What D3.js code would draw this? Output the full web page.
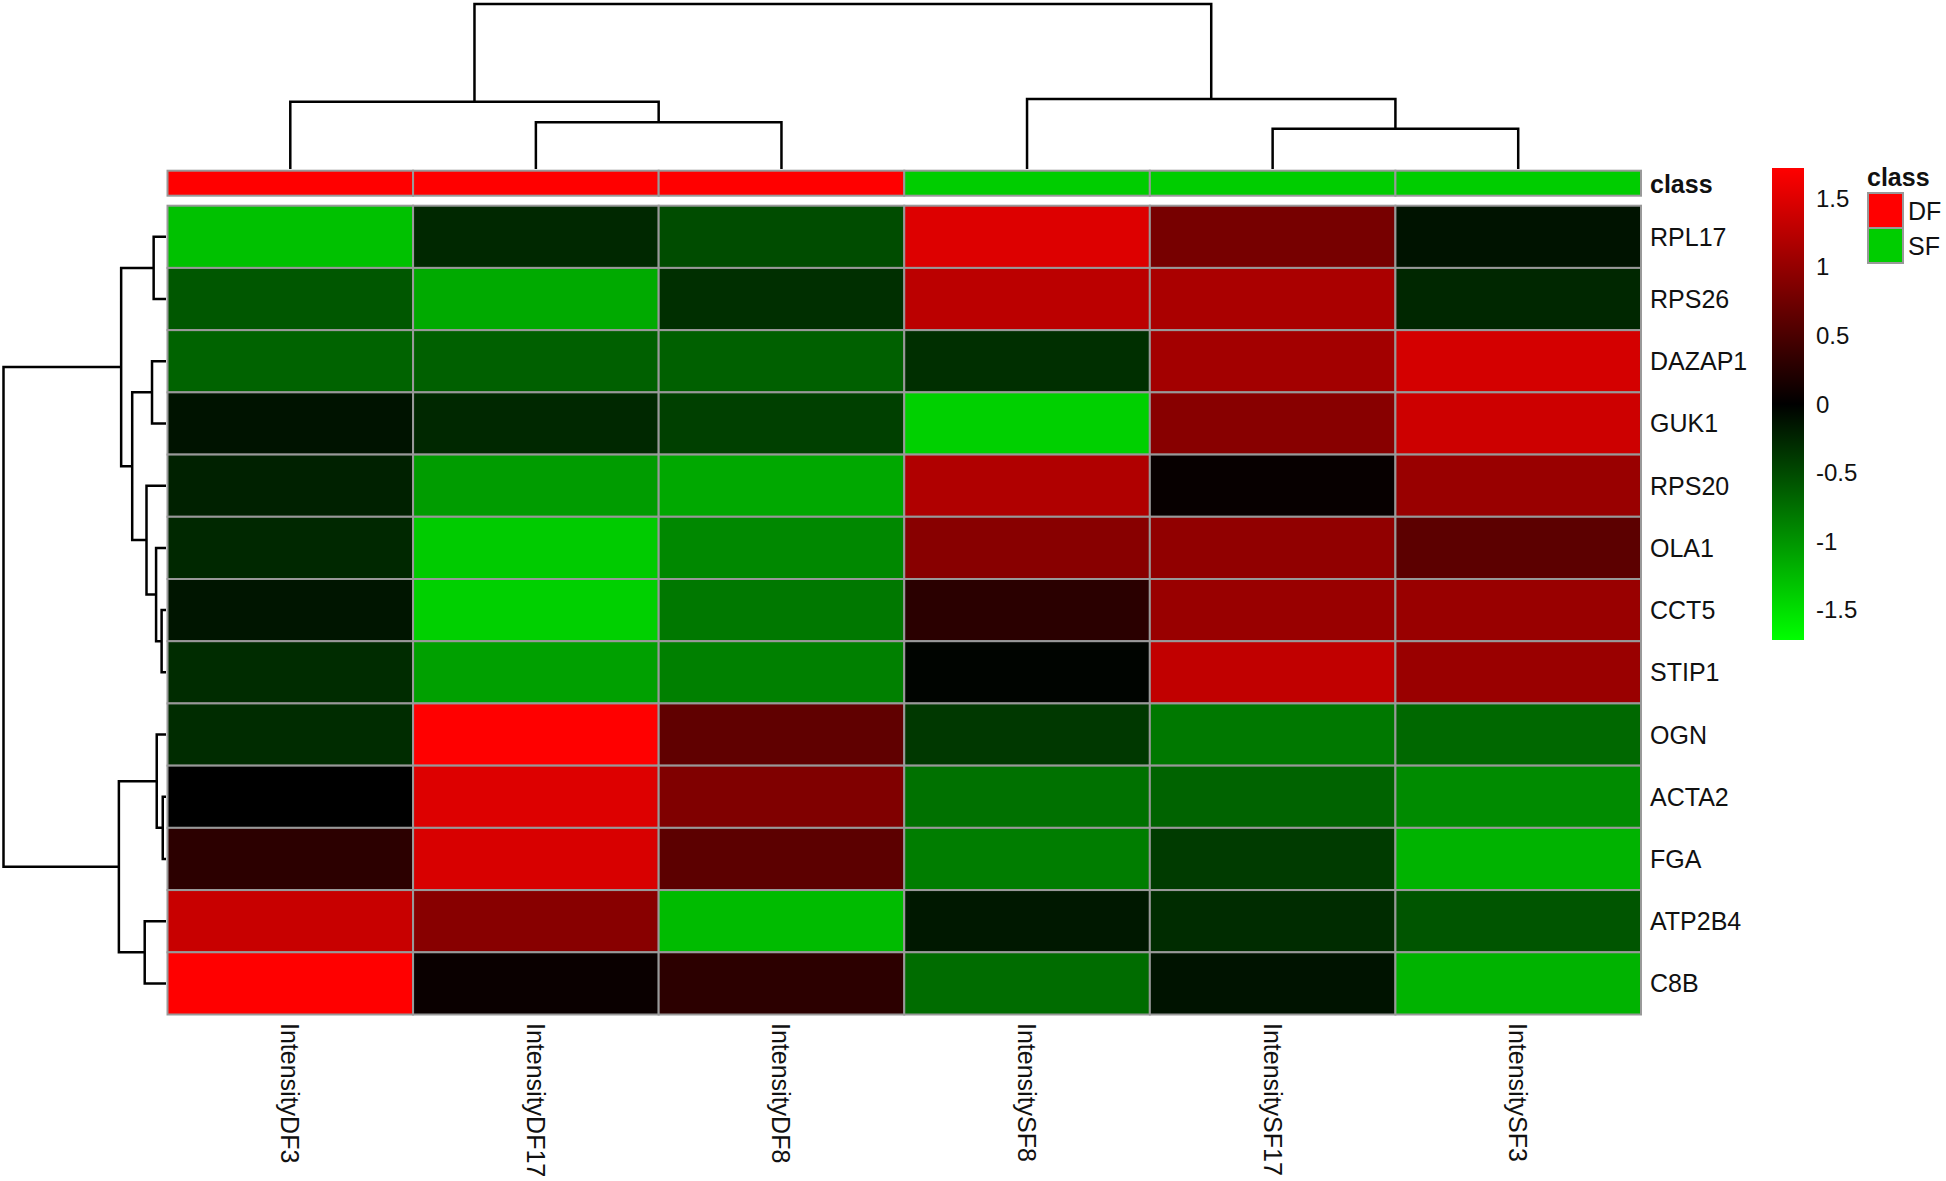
<!DOCTYPE html>
<html>
<head>
<meta charset="utf-8">
<title>heatmap</title>
<style>
body { margin: 0; background: #fff; }
text { font-family: "Liberation Sans", Arial, sans-serif; fill: #111; }
.cell { stroke: #999999; stroke-width: 2px; }
.dendro { fill: none; stroke: #000; stroke-width: 2.5px; }
</style>
</head>
<body>
<script src="https://cdn.jsdelivr.net/npm/d3@7"></script>
<script>

// samples (columns) and genes (rows), in dendrogram order
var samples = ["IntensityDF3", "IntensityDF17", "IntensityDF8", "IntensitySF8", "IntensitySF17", "IntensitySF3"];
var sampleClass = ["DF", "DF", "DF", "SF", "SF", "SF"];
var genes = ["RPL17", "RPS26", "DAZAP1", "GUK1", "RPS20", "OLA1", "CCT5", "STIP1", "OGN", "ACTA2", "FGA", "ATP2B4", "C8B"];

// scaled values, one row per gene, columns in sample order
var values = [
  [-1.30, -0.27, -0.51,  1.49,  0.80, -0.13],
  [-0.59, -1.15, -0.32,  1.26,  1.15, -0.26],
  [-0.67, -0.65, -0.65, -0.32,  1.10,  1.43],
  [-0.13, -0.27, -0.43, -1.40,  0.92,  1.38],
  [-0.22, -1.05, -1.13,  1.19,  0.05,  1.03],
  [-0.27, -1.37, -0.92,  0.92,  0.98,  0.62],
  [-0.14, -1.40, -0.81,  0.28,  1.03,  1.03],
  [-0.30, -1.08, -0.86, -0.03,  1.30,  1.04],
  [-0.30,  1.72,  0.65, -0.38, -0.81, -0.70],
  [ 0.00,  1.49,  0.86, -0.76, -0.67, -0.94],
  [ 0.30,  1.46,  0.62, -0.84, -0.40, -1.21],
  [ 1.35,  0.92, -1.26, -0.16, -0.30, -0.57],
  [ 1.72,  0.07,  0.30, -0.73, -0.13, -1.21]
];

var legendTicks = [-1.5, -1, -0.5, 0, 0.5, 1, 1.5];
var colorLimit = 1.72;
var classNames = ["DF", "SF"];
var classColors = ["#ff0000", "#00cd00"];

// merge heights of the clustering trees
var colTree = {h: 10, children: [
  {h: 4.08, children: [{name: "IntensityDF3"}, {h: 2.83, children: [{name: "IntensityDF17"}, {name: "IntensityDF8"}]}]},
  {h: 4.24, children: [{name: "IntensitySF8"}, {h: 2.44, children: [{name: "IntensitySF17"}, {name: "IntensitySF3"}]}]}
]};

var rowTree = {h: 10, children: [
  {h: 2.76, children: [
    {h: 0.76, children: [{name: "RPL17"}, {name: "RPS26"}]},
    {h: 2.08, children: [
      {h: 0.86, children: [{name: "DAZAP1"}, {name: "GUK1"}]},
      {h: 1.20, children: [{name: "RPS20"},
        {h: 0.61, children: [{name: "OLA1"},
          {h: 0.27, children: [{name: "CCT5"}, {name: "STIP1"}]}]}]}
    ]}
  ]},
  {h: 2.90, children: [
    {h: 0.57, children: [{name: "OGN"}, {h: 0.20, children: [{name: "ACTA2"}, {name: "FGA"}]}]},
    {h: 1.31, children: [{name: "ATP2B4"}, {name: "C8B"}]}
  ]}
]};

var width = 1946, height = 1181;

var svg = d3.select("body").append("svg")
    .attr("width", width)
    .attr("height", height);

svg.append("rect").attr("width", width).attr("height", height).attr("fill", "#fff");

var x = d3.scaleBand().domain(samples).range([167.5, 1641]);
var y = d3.scaleBand().domain(genes).range([205.7, 1014.5]);
var color = d3.scaleLinear()
    .domain([-colorLimit, 0, colorLimit])
    .range(["#00ff00", "#000000", "#ff0000"]);
var classColor = d3.scaleOrdinal().domain(classNames).range(classColors);

// heatmap cells
var cells = [];
values.forEach(function(row, i) {
  row.forEach(function(v, j) {
    cells.push({gene: genes[i], sample: samples[j], value: v});
  });
});

svg.append("g").selectAll("rect")
    .data(cells)
    .enter().append("rect")
    .attr("class", "cell")
    .attr("x", function(d) { return x(d.sample); })
    .attr("y", function(d) { return y(d.gene); })
    .attr("width", x.bandwidth())
    .attr("height", y.bandwidth())
    .attr("fill", function(d) { return color(d.value); });

// class annotation bar
svg.append("g").selectAll("rect")
    .data(samples)
    .enter().append("rect")
    .attr("class", "cell")
    .attr("x", function(d) { return x(d); })
    .attr("y", 170.7)
    .attr("width", x.bandwidth())
    .attr("height", 25)
    .attr("fill", function(d, i) { return classColor(sampleClass[i]); });

svg.append("text")
    .attr("x", 1650).attr("y", 183.5)
    .attr("dominant-baseline", "central")
    .style("font-size", "25px").style("font-weight", "bold")
    .text("class");

// row labels
svg.append("g").selectAll("text")
    .data(genes)
    .enter().append("text")
    .attr("x", 1650)
    .attr("y", function(d) { return y(d) + y.bandwidth() / 2; })
    .attr("dominant-baseline", "central")
    .style("font-size", "25px")
    .text(function(d) { return d; });

// column labels
svg.append("g").selectAll("text")
    .data(samples)
    .enter().append("text")
    .attr("transform", function(d) { return "translate(" + (x(d) + x.bandwidth() / 2) + ",1023) rotate(90)"; })
    .attr("dominant-baseline", "central")
    .style("font-size", "25px")
    .text(function(d) { return d; });

// dendrograms
function dendroPath(tree, leafPos, hPos, horizontal) {
  var root = d3.hierarchy(tree);
  root.eachAfter(function(n) {
    if (!n.children) { n.p = leafPos(n.data.name); n.hh = 0; }
    else {
      n.p = d3.mean(n.children, function(c) { return c.p; });
      n.hh = n.data.h;
    }
  });
  var segs = [];
  root.each(function(n) {
    if (!n.children) return;
    var a = n.children[0], b = n.children[n.children.length - 1];
    segs.push([[a.p, hPos(a.hh)], [a.p, hPos(n.hh)], [b.p, hPos(n.hh)], [b.p, hPos(b.hh)]]);
  });
  return segs.map(function(s) {
    return "M" + s.map(function(pt) {
      return horizontal ? pt[1] + "," + pt[0] : pt[0] + "," + pt[1];
    }).join("L");
  }).join("");
}

var colH = d3.scaleLinear().domain([0, 10]).range([169, 4]);
svg.append("path")
    .attr("class", "dendro")
    .attr("d", dendroPath(colTree, function(n) { return x(n) + x.bandwidth() / 2; }, colH, false));

var rowH = d3.scaleLinear().domain([0, 10]).range([166, 3.5]);
svg.append("path")
    .attr("class", "dendro")
    .attr("d", dendroPath(rowTree, function(n) { return y(n) + y.bandwidth() / 2; }, rowH, true));

// colour legend
var legendY = d3.scaleLinear().domain([-colorLimit, colorLimit]).range([640, 168]);

var grad = svg.append("defs").append("linearGradient")
    .attr("id", "cbar")
    .attr("x1", 0).attr("y1", 1).attr("x2", 0).attr("y2", 0);
d3.range(0, 1.0001, 0.05).forEach(function(t) {
  grad.append("stop")
      .attr("offset", t)
      .attr("stop-color", color(-colorLimit + 2 * colorLimit * t));
});

svg.append("rect")
    .attr("x", 1772).attr("y", legendY(colorLimit))
    .attr("width", 32).attr("height", legendY(-colorLimit) - legendY(colorLimit))
    .attr("fill", "url(#cbar)");

svg.append("g").selectAll("text")
    .data(legendTicks)
    .enter().append("text")
    .attr("x", 1816)
    .attr("y", function(d) { return legendY(d); })
    .attr("dominant-baseline", "central")
    .style("font-size", "24px")
    .text(function(d) { return String(d); });

// class legend
svg.append("text")
    .attr("x", 1867).attr("y", 177)
    .attr("dominant-baseline", "central")
    .style("font-size", "25px").style("font-weight", "bold")
    .text("class");

svg.append("g").selectAll("rect")
    .data(classNames)
    .enter().append("rect")
    .attr("class", "cell")
    .attr("x", 1868)
    .attr("y", function(d, i) { return 193 + i * 35; })
    .attr("width", 35).attr("height", 35)
    .attr("fill", function(d) { return classColor(d); });

svg.append("g").selectAll("text")
    .data(classNames)
    .enter().append("text")
    .attr("x", 1908)
    .attr("y", function(d, i) { return 211 + i * 35; })
    .attr("dominant-baseline", "central")
    .style("font-size", "25px")
    .text(function(d) { return d; });

</script>
</body>
</html>
